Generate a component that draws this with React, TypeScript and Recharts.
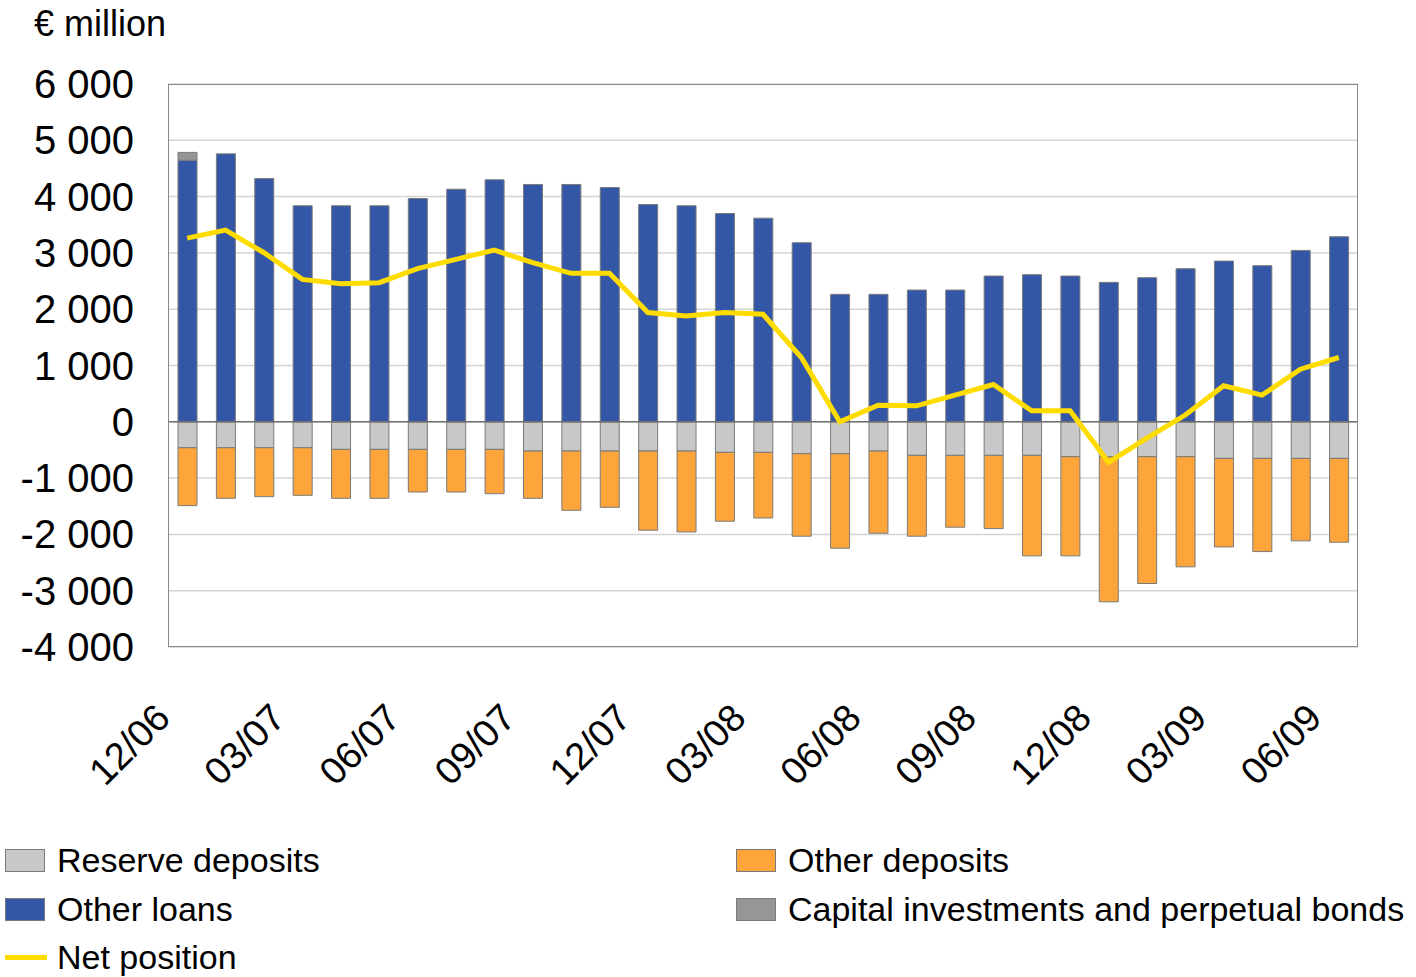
import React from "react";
import {
  ComposedChart,
  Bar,
  Line,
  XAxis,
  YAxis,
  CartesianGrid,
  ReferenceLine,
} from "recharts";

const months = [
  "12/06", "01/07", "02/07", "03/07", "04/07", "05/07", "06/07", "07/07", "08/07", "09/07", "10/07",
  "11/07", "12/07", "01/08", "02/08", "03/08", "04/08", "05/08", "06/08", "07/08", "08/08", "09/08",
  "10/08", "11/08", "12/08", "01/09", "02/09", "03/09", "04/09", "05/09", "06/09",
];

const reserveDeposits = [
  -461, -461, -461, -461, -490, -490, -490, -490, -490, -520, -520, -520, -520, -520, -543, -543,
  -567, -567, -520, -596, -596, -596, -596, -620, -620, -620, -620, -650, -650, -650, -650,
];

const otherDeposits = [
  -1028, -898, -869, -845, -869, -869, -757, -757, -787, -839, -1052, -999, -1406, -1436, -1223, -1165,
  -1465, -1678, -1459, -1436, -1276, -1301, -1785, -1761, -2577, -2252, -1956, -1572, -1655, -1465, -1489,
];

const otherLoans = [
  4645, 4759, 4321, 3837, 3837, 3837, 3966, 4131, 4298, 4215, 4215, 4161, 3860, 3837, 3700, 3617,
  3181, 2264, 2264, 2340, 2340, 2589, 2613, 2589, 2477, 2560, 2719, 2855, 2773, 3044, 3287,
];

const capitalInvestments = [
  140, 0, 0, 0, 0, 0, 0, 0, 0, 0, 0, 0, 0, 0, 0, 0, 0, 0, 0, 0, 0, 0, 0, 0, 0, 0, 0, 0, 0, 0, 0,
];

const netPosition = [
  3262, 3404, 3003, 2530, 2454, 2471, 2720, 2885, 3050, 2826, 2637, 2637, 1940, 1880, 1940, 1910,
  1142, 0, 296, 284, 473, 663, 195, 195, -720, -290, 120, 640, 473, 934, 1142,
];

const yTicks = [-4000, -3000, -2000, -1000, 0, 1000, 2000, 3000, 4000, 5000, 6000];

const data = months.map((m, i) => ({
  month: m,
  reserve: reserveDeposits[i],
  otherDep: otherDeposits[i],
  loans: otherLoans[i],
  capital: capitalInvestments[i],
  net: netPosition[i],
}));

const FONT = "'Liberation Sans', Arial, Helvetica, sans-serif";
const C_RESERVE = "#c8c8c8";
const C_OTHERDEP = "#fda53b";
const C_LOANS = "#3357a6";
const C_CAPITAL = "#969696";
const C_NET = "#ffdc00";
const C_STROKE = "#7a7a7a";

const fmt = (v: number) => {
  const s = Math.abs(v).toString().replace(/\B(?=(\d{3})+(?!\d))/g, " ");
  return v < 0 ? "-" + s : s;
};

const YTick = (props: any) => {
  const { y, payload } = props;
  return (
    <text x={134} y={y} textAnchor="end" dominantBaseline="central" fontSize={40} fontFamily={FONT} fill="#000">
      {fmt(payload.value)}
    </text>
  );
};

const XTick = (props: any) => {
  const { x, payload } = props;
  return (
    <text
      transform={`translate(${x - 15},${720}) rotate(-45)`}
      textAnchor="end"
      fontSize={38}
      fontFamily={FONT}
      fill="#000"
    >
      {payload.value}
    </text>
  );
};

const LegendItem = ({ color, label, x, y, line }: any) => (
  <div style={{ position: "absolute", left: x, top: y - 24, height: 48, display: "flex", alignItems: "center" }}>
    {line ? (
      <div style={{ width: 42, height: 5, background: color, marginRight: 10 }} />
    ) : (
      <div
        style={{
          width: 38,
          height: 21,
          background: color,
          border: `1px solid ${C_STROKE}`,
          marginRight: 12,
        }}
      />
    )}
    <span style={{ fontFamily: FONT, fontSize: 34, color: "#000", whiteSpace: "nowrap" }}>{label}</span>
  </div>
);

export default function App() {
  return (
    <div style={{ position: "absolute", left: 0, top: 0, width: 1416, height: 977, background: "#fff" }}>
      <div
        style={{
          position: "absolute",
          left: 34,
          top: 3,
          fontFamily: FONT,
          fontSize: 36,
          color: "#000",
          whiteSpace: "nowrap",
        }}
      >
        € million
      </div>
      <div style={{ position: "absolute", left: 0, top: 0 }}>
        <ComposedChart
          width={1416}
          height={830}
          data={data}
          stackOffset="sign"
          margin={{ top: 84, right: 58, left: 0, bottom: 53 }}
        >
          <CartesianGrid horizontal vertical={false} stroke="#d4d4d4" strokeWidth={1.5} />
          <XAxis
            dataKey="month"
            interval={2}
            tick={<XTick />}
            tickLine={false}
            axisLine={false}
            height={130}
          />
          <YAxis
            type="number"
            domain={[-4000, 6000]}
            ticks={yTicks}
            interval={0}
            tick={<YTick />}
            tickLine={false}
            axisLine={false}
            width={168}
          />
          <Bar dataKey="reserve" stackId="a" fill={C_RESERVE} stroke={C_STROKE} strokeWidth={1} barSize={19} isAnimationActive={false} />
          <Bar dataKey="otherDep" stackId="a" fill={C_OTHERDEP} stroke={C_STROKE} strokeWidth={1} barSize={19} isAnimationActive={false} />
          <Bar dataKey="loans" stackId="a" fill={C_LOANS} stroke={C_STROKE} strokeWidth={1} barSize={19} isAnimationActive={false} />
          <Bar dataKey="capital" stackId="a" fill={C_CAPITAL} stroke={C_STROKE} strokeWidth={1} barSize={19} isAnimationActive={false} />
          <ReferenceLine y={0} stroke="#6f6f6f" strokeWidth={1.5} />
          <Line
            type="linear"
            dataKey="net"
            stroke={C_NET}
            strokeWidth={5}
            dot={false}
            activeDot={false}
            isAnimationActive={false}
          />
        </ComposedChart>
      </div>
      <div
        style={{
          position: "absolute",
          left: 168,
          top: 84,
          width: 1190,
          height: 563,
          border: "1px solid #8a8a8a",
          boxSizing: "border-box",
          pointerEvents: "none",
        }}
      />
      <LegendItem color={C_RESERVE} label="Reserve deposits" x={5} y={860} />
      <LegendItem color={C_LOANS} label="Other loans" x={5} y={909} />
      <LegendItem color={C_NET} label="Net position" x={5} y={957} line />
      <LegendItem color={C_OTHERDEP} label="Other deposits" x={736} y={860} />
      <LegendItem color={C_CAPITAL} label="Capital investments and perpetual bonds" x={736} y={909} />
    </div>
  );
}
